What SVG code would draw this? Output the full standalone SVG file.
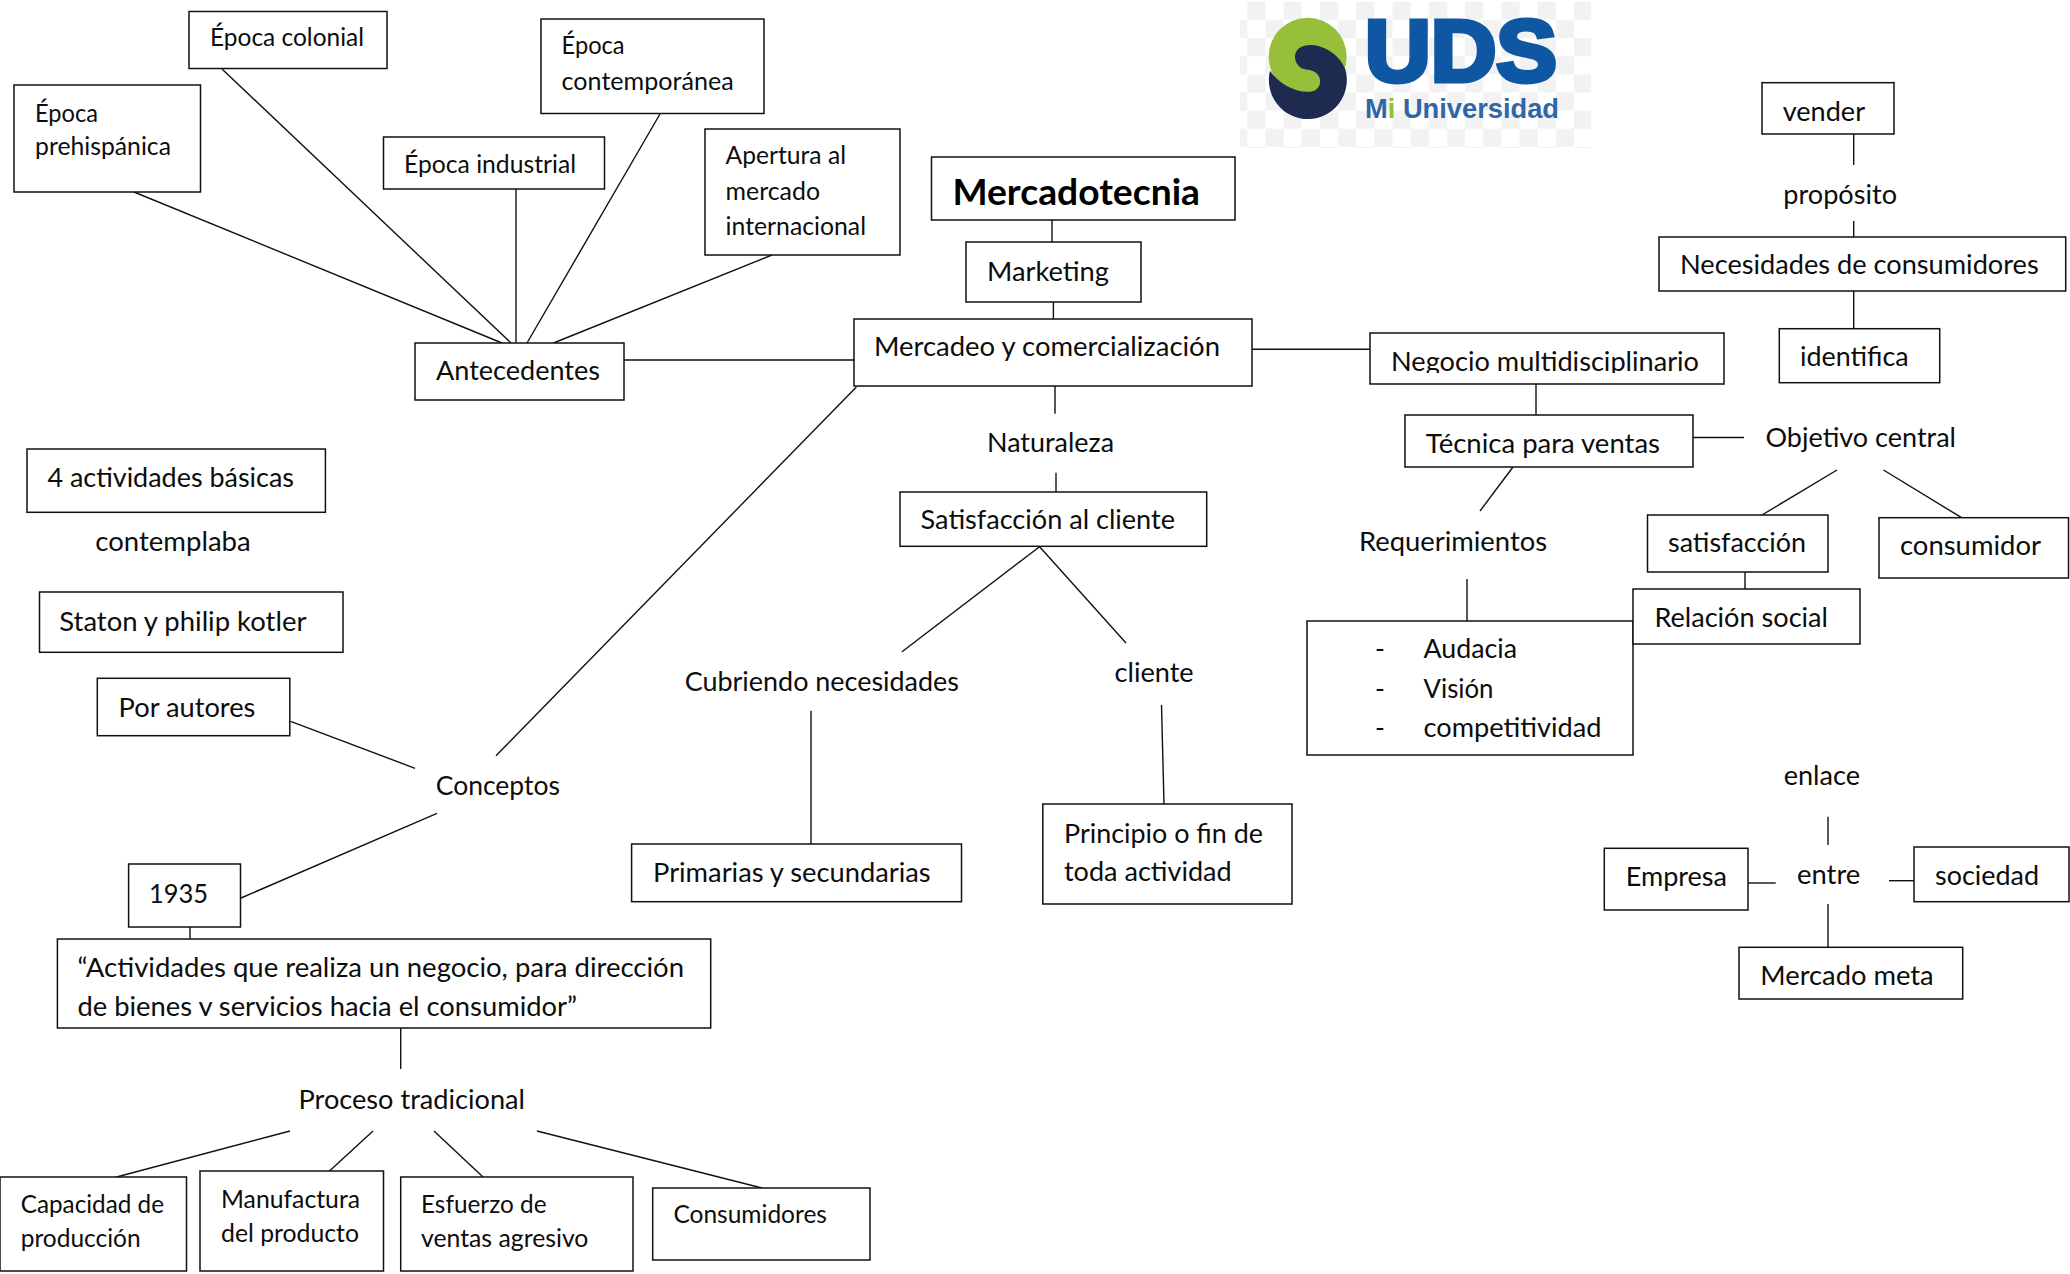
<svg xmlns="http://www.w3.org/2000/svg" width="2070" height="1274" viewBox="0 0 2070 1274">
<style>
text{font-family:"Lato","Carlito","Liberation Sans",sans-serif;font-size:26.5px;fill:#0d0d0d}
.s{font-size:24.5px}
.h{font-size:37px;font-weight:700;fill:#000}
rect.b{fill:#fff;stroke:#111;stroke-width:1.5}
#connectors line{stroke:#111;stroke-width:1.4;fill:none}
.uds{font-family:"Liberation Sans",sans-serif;font-weight:700;font-size:88px;fill:#1057a3;stroke:#1057a3;stroke-width:5}
.mi{font-family:"Liberation Sans",sans-serif;font-weight:700;font-size:27px;fill:#2f66a6}
</style>
<defs>
<pattern id="chk" patternUnits="userSpaceOnUse" x="1247.3" y="1.7" width="36.3" height="36.3">
<rect x="0" y="0" width="18.15" height="18.15" fill="#f2f2f2"/>
<rect x="18.15" y="18.15" width="18.15" height="18.15" fill="#f2f2f2"/>
</pattern>
<clipPath id="clipNeg"><rect x="1380" y="340" width="330" height="33"/></clipPath>
<clipPath id="clipAct"><rect x="60" y="985" width="640" height="31"/></clipPath>
</defs>
<rect width="2070" height="1274" fill="#fff"/>

<g id="logo">
<rect x="1240" y="2" width="351" height="146" fill="#fff"/>
<rect x="1240" y="2" width="351" height="146" fill="url(#chk)"/>
<g transform="translate(1220 0) scale(.3333)">
<circle cx="263" cy="170" r="117" fill="#97bf3a"/>
<path d="M225 170C225 145 250 133 275 135C320 138 362 170 376 208A117 117 0 1 1 150 212C175 250 225 278 270 275C295 273 302 255 300 240C298 220 280 210 255 208C240 205 225 190 225 170Z" fill="#1f2a50"/>
</g>
<text class="uds" x="1365" y="81" textLength="192" lengthAdjust="spacingAndGlyphs">UDS</text>
<text class="mi" x="1365" y="118" textLength="194" lengthAdjust="spacingAndGlyphs">M<tspan fill="#97bf3a">i</tspan> Universidad</text>
</g>

<g id="connectors">
<line x1="134" y1="192" x2="502" y2="343"/>
<line x1="222" y1="69" x2="511" y2="343"/>
<line x1="516" y1="189" x2="516" y2="343"/>
<line x1="660" y1="114" x2="527" y2="343"/>
<line x1="772" y1="255" x2="553.5" y2="343"/>
<line x1="624" y1="360" x2="854" y2="360"/>
<line x1="1052" y1="220" x2="1052" y2="242"/>
<line x1="1053.4" y1="302" x2="1053.4" y2="319"/>
<line x1="1252" y1="349.3" x2="1370" y2="349.3"/>
<line x1="856.4" y1="387" x2="496" y2="755.7"/>
<line x1="1055" y1="386" x2="1055" y2="413.7"/>
<line x1="1056" y1="472.7" x2="1056" y2="492"/>
<line x1="1039.6" y1="546.7" x2="902" y2="651.7"/>
<line x1="1039.6" y1="546.7" x2="1126" y2="643"/>
<line x1="811" y1="710.7" x2="811" y2="844"/>
<line x1="1161.5" y1="705" x2="1164" y2="804"/>
<line x1="290.6" y1="721.3" x2="415" y2="768.3"/>
<line x1="437" y1="813.3" x2="241" y2="898"/>
<line x1="190" y1="927" x2="190" y2="939"/>
<line x1="400.7" y1="1028" x2="400.7" y2="1069"/>
<line x1="290" y1="1131" x2="116.5" y2="1177"/>
<line x1="373" y1="1131" x2="329.5" y2="1171"/>
<line x1="434" y1="1131" x2="483" y2="1177"/>
<line x1="537" y1="1131" x2="762" y2="1188"/>
<line x1="1536" y1="384" x2="1536" y2="415"/>
<line x1="1693" y1="437.5" x2="1744" y2="437.5"/>
<line x1="1513" y1="467" x2="1480" y2="511"/>
<line x1="1467" y1="579" x2="1467" y2="621"/>
<line x1="1837" y1="470" x2="1762" y2="515"/>
<line x1="1883.5" y1="470" x2="1961.6" y2="517.7"/>
<line x1="1745" y1="572" x2="1745" y2="589"/>
<line x1="1853.7" y1="134" x2="1853.7" y2="165"/>
<line x1="1853.7" y1="221" x2="1853.7" y2="237"/>
<line x1="1853.7" y1="291" x2="1853.7" y2="328.7"/>
<line x1="1828" y1="816.7" x2="1828" y2="845"/>
<line x1="1748" y1="883" x2="1775.7" y2="883"/>
<line x1="1889" y1="880.7" x2="1914" y2="880.7"/>
<line x1="1828" y1="904" x2="1828" y2="947.3"/>
</g>

<g id="n-prehispanica"><rect class="b" x="14" y="85" width="186.5" height="107"/>
<text class="s" x="35" y="122" textLength="63" lengthAdjust="spacingAndGlyphs">Época</text>
<text class="s" x="35" y="155" textLength="136" lengthAdjust="spacingAndGlyphs">prehispánica</text></g>
<g id="n-colonial"><rect class="b" x="189" y="11.5" width="198" height="57"/>
<text class="s" x="210" y="46" textLength="154" lengthAdjust="spacingAndGlyphs">Época colonial</text></g>
<g id="n-contemporanea"><rect class="b" x="541" y="19" width="223" height="94.5"/>
<text class="s" x="561.6" y="54" textLength="63" lengthAdjust="spacingAndGlyphs">Época</text>
<text class="s" x="561.6" y="90" textLength="172" lengthAdjust="spacingAndGlyphs">contemporánea</text></g>
<g id="n-industrial"><rect class="b" x="383.5" y="137" width="221" height="52"/>
<text class="s" x="404" y="173" textLength="172" lengthAdjust="spacingAndGlyphs">Época industrial</text></g>
<g id="n-apertura"><rect class="b" x="705" y="129" width="195" height="126"/>
<text class="s" x="725.6" y="164" textLength="120.4" lengthAdjust="spacingAndGlyphs">Apertura al</text>
<text class="s" x="725.6" y="200" textLength="94.4" lengthAdjust="spacingAndGlyphs">mercado</text>
<text class="s" x="725.6" y="235" textLength="140.4" lengthAdjust="spacingAndGlyphs">internacional</text></g>
<g id="n-antecedentes"><rect class="b" x="415" y="343" width="209" height="57"/>
<text x="436" y="380" textLength="164" lengthAdjust="spacingAndGlyphs">Antecedentes</text></g>
<g id="n-mercadotecnia"><rect class="b" x="931.5" y="157" width="303.5" height="63"/>
<text class="h" x="952.4" y="204.7" textLength="247.6" lengthAdjust="spacingAndGlyphs">Mercadotecnia</text></g>
<g id="n-marketing"><rect class="b" x="966" y="242" width="175" height="60"/>
<text x="987" y="280.7" textLength="122" lengthAdjust="spacingAndGlyphs">Marketing</text></g>
<g id="n-mercadeo"><rect class="b" x="854" y="319" width="398" height="67"/>
<text x="874" y="356" textLength="346" lengthAdjust="spacingAndGlyphs">Mercadeo y comercialización</text></g>
<g id="n-naturaleza"><text x="987" y="452" textLength="127" lengthAdjust="spacingAndGlyphs">Naturaleza</text></g>
<g id="n-satisfaccion-cliente"><rect class="b" x="900" y="492" width="306.7" height="54.3"/>
<text x="920.6" y="529" textLength="254.4" lengthAdjust="spacingAndGlyphs">Satisfacción al cliente</text></g>
<g id="n-cubriendo"><text x="684.7" y="691" textLength="274.3" lengthAdjust="spacingAndGlyphs">Cubriendo necesidades</text></g>
<g id="n-cliente"><text x="1114.6" y="682" textLength="79.1" lengthAdjust="spacingAndGlyphs">cliente</text></g>
<g id="n-primarias"><rect class="b" x="631.6" y="844" width="329.9" height="57.7"/>
<text x="653" y="882" textLength="277.7" lengthAdjust="spacingAndGlyphs">Primarias y secundarias</text></g>
<g id="n-principio"><rect class="b" x="1042.8" y="804" width="249.2" height="100"/>
<text x="1064" y="842.7" textLength="199" lengthAdjust="spacingAndGlyphs">Principio o fin de</text>
<text x="1064" y="880.7" textLength="167.6" lengthAdjust="spacingAndGlyphs">toda actividad</text></g>
<g id="n-actividades"><rect class="b" x="27" y="449" width="298.4" height="63.3"/>
<text x="47.4" y="486.7" textLength="246.6" lengthAdjust="spacingAndGlyphs">4 actividades básicas</text></g>
<g id="n-contemplaba"><text x="95.3" y="550.7" textLength="155.4" lengthAdjust="spacingAndGlyphs">contemplaba</text></g>
<g id="n-staton"><rect class="b" x="39.5" y="592" width="303.5" height="60.3"/>
<text x="59.3" y="630.7" textLength="247.1" lengthAdjust="spacingAndGlyphs">Staton y philip kotler</text></g>
<g id="n-autores"><rect class="b" x="97.3" y="678.3" width="192.5" height="57.4"/>
<text x="118.6" y="716.7" textLength="136.8" lengthAdjust="spacingAndGlyphs">Por autores</text></g>
<g id="n-conceptos"><text x="435.7" y="795" textLength="124.3" lengthAdjust="spacingAndGlyphs">Conceptos</text></g>
<g id="n-1935"><rect class="b" x="128.6" y="864" width="111.9" height="63"/>
<text x="149" y="903" textLength="59" lengthAdjust="spacingAndGlyphs">1935</text></g>
<g id="n-definicion"><rect class="b" x="57.4" y="939" width="653.3" height="89"/>
<text x="77.5" y="977" textLength="606.5" lengthAdjust="spacingAndGlyphs">“Actividades que realiza un negocio, para dirección</text>
<text x="77.5" y="1016" textLength="499.5" lengthAdjust="spacingAndGlyphs" clip-path="url(#clipAct)">de bienes y servicios hacia el consumidor”</text></g>
<g id="n-proceso"><text x="298.5" y="1109" textLength="226.5" lengthAdjust="spacingAndGlyphs">Proceso tradicional</text></g>
<g id="n-capacidad"><rect class="b" x="0" y="1177" width="186.5" height="94"/>
<text class="s" x="20.7" y="1213" textLength="143.3" lengthAdjust="spacingAndGlyphs">Capacidad de</text>
<text class="s" x="20.7" y="1247" textLength="119.9" lengthAdjust="spacingAndGlyphs">producción</text></g>
<g id="n-manufactura"><rect class="b" x="200" y="1171" width="183.5" height="100"/>
<text class="s" x="221" y="1208" textLength="139" lengthAdjust="spacingAndGlyphs">Manufactura</text>
<text class="s" x="221" y="1242" textLength="138" lengthAdjust="spacingAndGlyphs">del producto</text></g>
<g id="n-esfuerzo"><rect class="b" x="400.7" y="1177" width="232.3" height="94"/>
<text class="s" x="421" y="1213" textLength="125.5" lengthAdjust="spacingAndGlyphs">Esfuerzo de</text>
<text class="s" x="421" y="1247" textLength="167.4" lengthAdjust="spacingAndGlyphs">ventas agresivo</text></g>
<g id="n-consumidores"><rect class="b" x="652.7" y="1188" width="217.3" height="72"/>
<text class="s" x="673.4" y="1223" textLength="153.6" lengthAdjust="spacingAndGlyphs">Consumidores</text></g>
<g id="n-negocio"><rect class="b" x="1370" y="333" width="354" height="51"/>
<text x="1391" y="371" textLength="308" lengthAdjust="spacingAndGlyphs" clip-path="url(#clipNeg)">Negocio multidisciplinario</text></g>
<g id="n-tecnica"><rect class="b" x="1405" y="415" width="288" height="52"/>
<text x="1425.8" y="452.7" textLength="234.2" lengthAdjust="spacingAndGlyphs">Técnica para ventas</text></g>
<g id="n-objetivo"><text x="1765.5" y="447" textLength="190.5" lengthAdjust="spacingAndGlyphs">Objetivo central</text></g>
<g id="n-requerimientos"><text x="1359" y="551" textLength="188" lengthAdjust="spacingAndGlyphs">Requerimientos</text></g>
<g id="n-cualidades"><rect class="b" x="1307" y="621" width="326" height="134"/>
<text x="1375" y="658">-</text><text x="1423.5" y="658" textLength="93.5" lengthAdjust="spacingAndGlyphs">Audacia</text>
<text x="1375" y="698">-</text><text x="1423.5" y="698" textLength="70" lengthAdjust="spacingAndGlyphs">Visión</text>
<text x="1375" y="737">-</text><text x="1423.5" y="737" textLength="178" lengthAdjust="spacingAndGlyphs">competitividad</text></g>
<g id="n-satisfaccion"><rect class="b" x="1647.5" y="515" width="180.5" height="57"/>
<text x="1668" y="552" textLength="138" lengthAdjust="spacingAndGlyphs">satisfacción</text></g>
<g id="n-consumidor"><rect class="b" x="1879" y="517.7" width="189.5" height="60.3"/>
<text x="1900" y="555" textLength="141" lengthAdjust="spacingAndGlyphs">consumidor</text></g>
<g id="n-relacion"><rect class="b" x="1633" y="589" width="227" height="55"/>
<text x="1654.4" y="627" textLength="173.6" lengthAdjust="spacingAndGlyphs">Relación social</text></g>
<g id="n-vender"><rect class="b" x="1762" y="82.7" width="132" height="51.3"/>
<text x="1782.7" y="120.7" textLength="82.3" lengthAdjust="spacingAndGlyphs">vender</text></g>
<g id="n-proposito"><text x="1783.3" y="204" textLength="113.7" lengthAdjust="spacingAndGlyphs">propósito</text></g>
<g id="n-necesidades"><rect class="b" x="1659" y="237" width="406.7" height="54"/>
<text x="1680" y="274" textLength="358.7" lengthAdjust="spacingAndGlyphs">Necesidades de consumidores</text></g>
<g id="n-identifica"><rect class="b" x="1779.3" y="328.7" width="160.4" height="54"/>
<text x="1800" y="366" textLength="108.7" lengthAdjust="spacingAndGlyphs">identifica</text></g>
<g id="n-enlace"><text x="1783.7" y="784.7" textLength="76.3" lengthAdjust="spacingAndGlyphs">enlace</text></g>
<g id="n-empresa"><rect class="b" x="1604.3" y="848.3" width="143.7" height="61.7"/>
<text x="1625.7" y="886" textLength="101.3" lengthAdjust="spacingAndGlyphs">Empresa</text></g>
<g id="n-entre"><text x="1797" y="884" textLength="63.3" lengthAdjust="spacingAndGlyphs">entre</text></g>
<g id="n-sociedad"><rect class="b" x="1914" y="847" width="155" height="54.7"/>
<text x="1935" y="885" textLength="104" lengthAdjust="spacingAndGlyphs">sociedad</text></g>
<g id="n-mercado-meta"><rect class="b" x="1739" y="947.3" width="223.7" height="51.7"/>
<text x="1760.3" y="985" textLength="173.4" lengthAdjust="spacingAndGlyphs">Mercado meta</text></g>
</svg>
